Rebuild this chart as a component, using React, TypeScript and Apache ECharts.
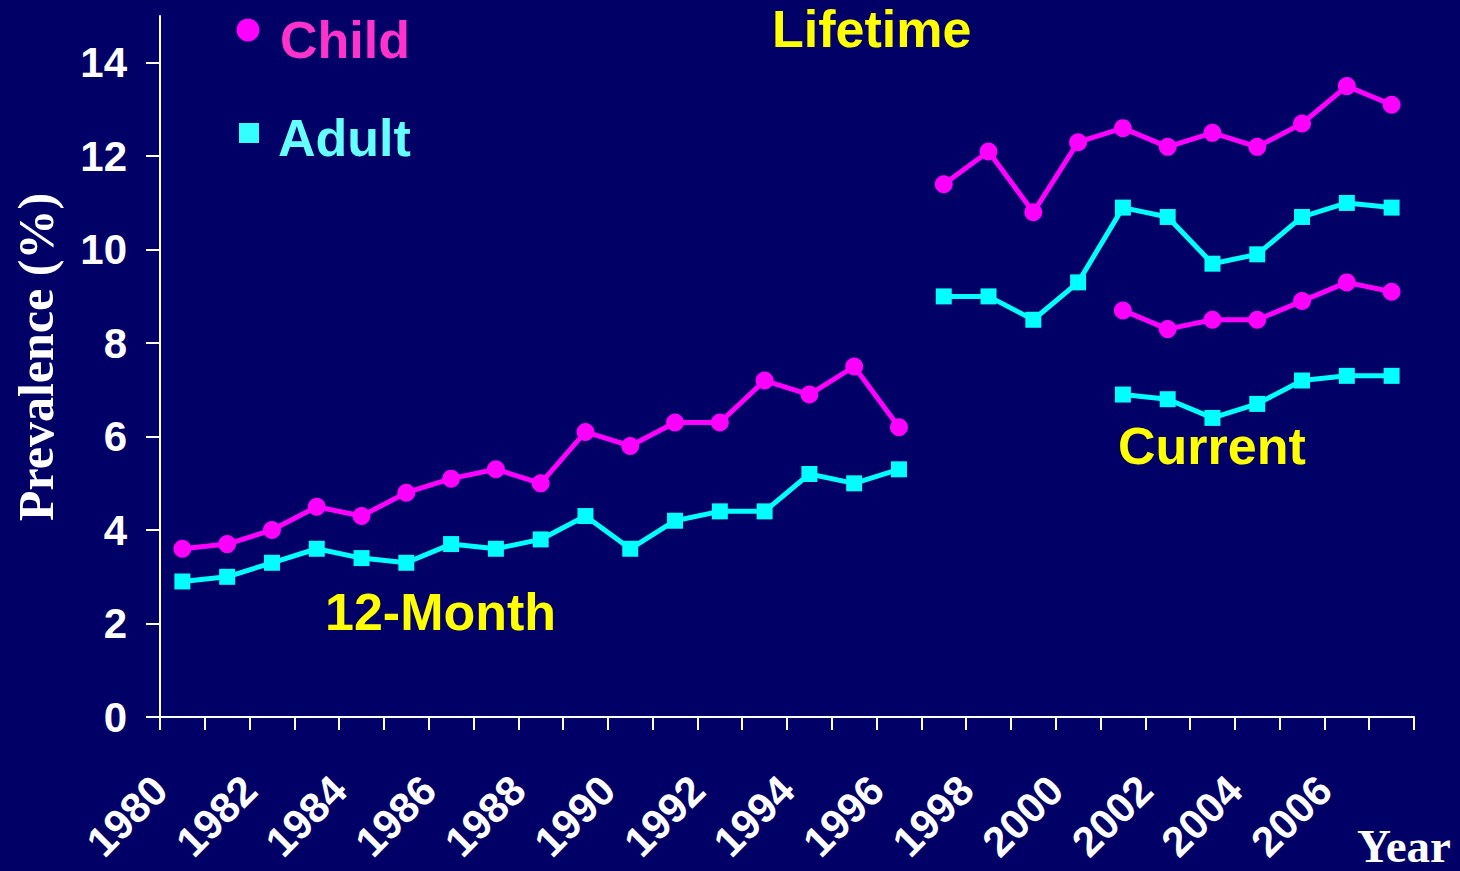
import React, { useEffect, useRef } from "react";
import * as echarts from "echarts";

const years = [
  "1980", "1981", "1982", "1983", "1984", "1985", "1986", "1987", "1988", "1989",
  "1990", "1991", "1992", "1993", "1994", "1995", "1996", "1997", "1998", "1999",
  "2000", "2001", "2002", "2003", "2004", "2005", "2006", "2007",
];

// 12-Month (1980-1996)
const monthStart = "1980";
const childMonth = [3.6, 3.7, 4.0, 4.5, 4.3, 4.8, 5.1, 5.3, 5.0, 6.1, 5.8, 6.3, 6.3, 7.2, 6.9, 7.5, 6.2];
const adultMonth = [2.9, 3.0, 3.3, 3.6, 3.4, 3.3, 3.7, 3.6, 3.8, 4.3, 3.6, 4.2, 4.4, 4.4, 5.2, 5.0, 5.3];

// Lifetime (1997-2007)
const lifetimeStart = "1997";
const childLifetime = [11.4, 12.1, 10.8, 12.3, 12.6, 12.2, 12.5, 12.2, 12.7, 13.5, 13.1];
const adultLifetime = [9.0, 9.0, 8.5, 9.3, 10.9, 10.7, 9.7, 9.9, 10.7, 11.0, 10.9];

// Current (2001-2007)
const currentStart = "2001";
const childCurrent = [8.7, 8.3, 8.5, 8.5, 8.9, 9.3, 9.1];
const adultCurrent = [6.9, 6.8, 6.4, 6.7, 7.2, 7.3, 7.3];

const yTicks = [0, 2, 4, 6, 8, 10, 12, 14];
const yearLabelMin = 1980;
const yearLabelMax = 2008;
const yearLabelStep = 2;

const BG = "#000066";
const MAGENTA = "#FF00FF";
const CYAN = "#00FFFF";
const YELLOW = "#FFFF00";
const SANS = "'Liberation Sans', Arial, sans-serif";
const SERIF = "'Liberation Serif', 'Times New Roman', serif";

function place(start: string, values: number[]): (number | null)[] {
  const out: (number | null)[] = years.map(() => null);
  const i0 = years.indexOf(start);
  values.forEach((v, i) => {
    out[i0 + i] = v;
  });
  return out;
}

function lineSeries(name: string, data: (number | null)[], color: string, symbol: string, size: number) {
  return {
    name,
    type: "line",
    data,
    connectNulls: false,
    symbol,
    symbolSize: size,
    showSymbol: true,
    lineStyle: { color, width: 5 },
    itemStyle: { color },
    emphasis: { disabled: true },
  };
}

export default function App() {
  const ref = useRef<HTMLDivElement>(null);
  useEffect(() => {
    if (!ref.current) return;
    const chart = echarts.init(ref.current, undefined, { renderer: "svg" });
    chart.setOption({
      animation: false,
      backgroundColor: BG,
      grid: { left: 160, right: 46, top: 16, bottom: 154, containLabel: false },
      xAxis: [
        {
          type: "category",
          data: years,
          boundaryGap: true,
          position: "bottom",
          axisLine: { lineStyle: { color: "#FFFFFF", width: 2 } },
          axisTick: { show: true, interval: 0, length: 13, lineStyle: { color: "#FFFFFF", width: 2 } },
          axisLabel: { show: false },
          splitLine: { show: false },
        },
        {
          type: "value",
          min: yearLabelMin,
          max: yearLabelMax,
          interval: yearLabelStep,
          position: "bottom",
          axisLine: { show: false },
          axisTick: { show: false },
          splitLine: { show: false },
          axisLabel: {
            show: true,
            rotate: 45,
            margin: 66,
            showMaxLabel: false,
            color: "#FFFFFF",
            fontFamily: SANS,
            fontWeight: "bold",
            fontSize: 42,
            formatter: (v: number) => String(v),
          },
        },
      ],
      yAxis: {
        type: "value",
        min: 0,
        max: 15,
        axisLine: { show: true, lineStyle: { color: "#FFFFFF", width: 2 } },
        axisTick: { show: true, length: 14, customValues: yTicks, lineStyle: { color: "#FFFFFF", width: 2 } },
        axisLabel: {
          customValues: yTicks,
          margin: 33,
          color: "#FFFFFF",
          fontFamily: SANS,
          fontWeight: "bold",
          fontSize: 42,
        },
        splitLine: { show: false },
      },
      series: [
        lineSeries("Child", place(monthStart, childMonth), MAGENTA, "circle", 18),
        lineSeries("Adult", place(monthStart, adultMonth), CYAN, "rect", 16),
        lineSeries("Child", place(lifetimeStart, childLifetime), MAGENTA, "circle", 18),
        lineSeries("Adult", place(lifetimeStart, adultLifetime), CYAN, "rect", 16),
        lineSeries("Child", place(currentStart, childCurrent), MAGENTA, "circle", 18),
        lineSeries("Adult", place(currentStart, adultCurrent), CYAN, "rect", 16),
      ],
      graphic: [
        { type: "circle", shape: { cx: 248, cy: 30, r: 11.5 }, style: { fill: MAGENTA } },
        {
          type: "text",
          x: 280,
          y: 40,
          style: { text: "Child", fill: "#FF33CC", font: `bold 52px ${SANS}`, textAlign: "left", textVerticalAlign: "middle" },
        },
        { type: "rect", shape: { x: 239, y: 123, width: 20, height: 20 }, style: { fill: "#33FFFF" } },
        {
          type: "text",
          x: 278,
          y: 138,
          style: { text: "Adult", fill: "#66FFFF", font: `bold 52px ${SANS}`, textAlign: "left", textVerticalAlign: "middle" },
        },
        {
          type: "text",
          x: 36,
          y: 357,
          rotation: Math.PI / 2,
          style: {
            text: "Prevalence (%)",
            fill: "#FFFFFF",
            font: `bold 50px ${SERIF}`,
            textAlign: "center",
            textVerticalAlign: "middle",
          },
        },
        {
          type: "text",
          x: 1451,
          y: 846,
          style: {
            text: "Year",
            fill: "#FFFFFF",
            font: `bold 47px ${SERIF}`,
            lineHeight: 40,
            textAlign: "right",
            textVerticalAlign: "middle",
          },
        },
        {
          type: "text",
          x: 772,
          y: 29,
          style: { text: "Lifetime", fill: YELLOW, font: `bold 52px ${SANS}`, textAlign: "left", textVerticalAlign: "middle" },
        },
        {
          type: "text",
          x: 325,
          y: 612,
          style: { text: "12-Month", fill: YELLOW, font: `bold 52px ${SANS}`, textAlign: "left", textVerticalAlign: "middle" },
        },
        {
          type: "text",
          x: 1118,
          y: 446,
          style: { text: "Current", fill: YELLOW, font: `bold 52px ${SANS}`, textAlign: "left", textVerticalAlign: "middle" },
        },
      ],
    });
    return () => chart.dispose();
  }, []);
  return <div ref={ref} style={{ position: "fixed", left: 0, top: 0, width: 1460, height: 871 }} />;
}
